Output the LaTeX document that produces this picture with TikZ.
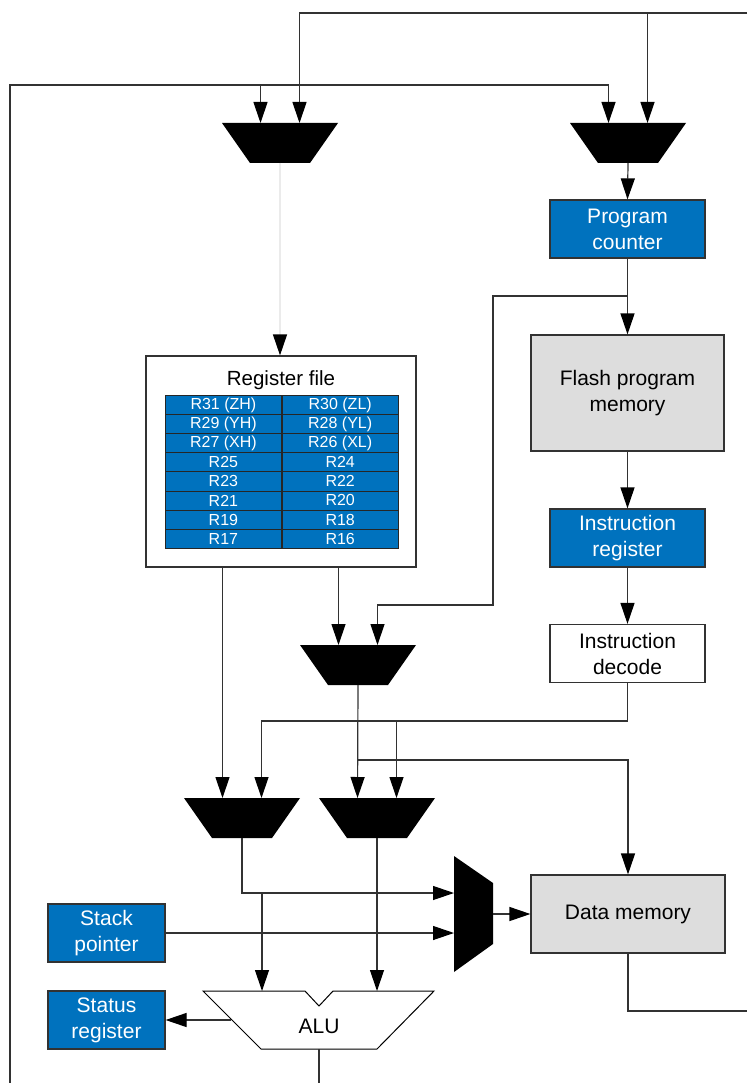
\documentclass[tikz,border=0pt]{standalone}
\usepackage{fontspec}
\setmainfont{Liberation Sans}
\usepackage{xcolor}
\usetikzlibrary{arrows.meta}
\definecolor{avrblue}{RGB}{0,114,190}
\definecolor{memgray}{RGB}{221,221,221}
\definecolor{wiregray}{RGB}{50,50,50}

\begin{document}
\begin{tikzpicture}[x=1pt, y=-1pt,
        wire/.style={draw=wiregray, line width=1.2pt},
        arr/.style={wire, -{Triangle[length=21pt, width=14pt, color=black]}},
        faint arr/.style={arr, draw=black!8},
        unit/.style={draw=wiregray, line width=1.2pt, minimum width=155pt, minimum height=58pt,
            align=center, inner sep=0pt, font=\fontsize{21}{26}\selectfont},
        blue unit/.style={unit, fill=avrblue, text=white},
        mem unit/.style={unit, fill=memgray},
        reg/.style={draw=black!85, line width=0.8pt, fill=avrblue, text=white, minimum width=116pt,
            minimum height=19.1pt, inner sep=0pt, anchor=north west, font=\fontsize{16}{16}\selectfont}]
        \useasboundingbox (0,0) rectangle (747,1083);
        % Edges of the page
        \coordinate (topr) at (747,13);
        \coordinate (botl) at (10,1083);
        \coordinate (loop) at (10,85);
        \coordinate (dmout) at (747,1011);
        \coordinate (aluout) at (319,1083);
        % Blocks
        \node [blue unit] (pc) at (627.5,229) {Program\\counter};
        \node [mem unit, minimum width=193pt, minimum height=116pt] (flash) at (627.5,393) {Flash program\\memory};
        \node [blue unit] (ir) at (627.5,538) {Instruction\\register};
        \node [unit, fill=white] (id) at (627.5,653.5) {Instruction\\decode};
        \node [mem unit, minimum width=194pt, minimum height=78pt] (dmem) at (628,914) {Data memory};
        \node [blue unit, minimum width=117pt] (sp) at (106.5,933) {Stack\\pointer};
        \node [blue unit, minimum width=117pt] (sr) at (106.5,1020) {Status\\register};
        % Register file
        \node [draw=wiregray, line width=1.2pt, fill=white, minimum width=270pt, minimum height=211pt] (rf) at (281,461.5) {};
        \node [font=\fontsize{20.5}{24}\selectfont] (rftitle) at (281,380) {Register file};
        \foreach \a/\b [count=\i] in {R31 (ZH)/R30 (ZL), R29 (YH)/R28 (YL), R27 (XH)/R26 (XL),
                R25/R24, R23/R22, R21/R20, R19/R18, R17/R16} {
            \node [reg] (rl\i) at (165,{395+19.1*(\i-1)}) {\a};
            \node [reg] (rr\i) at (rl\i.north east) {\b};
        }
        % Multiplexers
        \foreach \m/\x/\y in {ma/280/123, mb/628/123, mc/358/645, md/242/798, me/377/798} {
            \fill (\x-58,\y) -- (\x+58,\y) -- (\x+30,\y+40) -- (\x-30,\y+40) -- cycle;
            \coordinate (\m-a) at (\x-19.5,\y);
            \coordinate (\m-b) at (\x+19.5,\y);
            \coordinate (\m-o) at (\x,\y+40);
        }
        \fill (454,856) -- (493,883) -- (493,944) -- (454,972) -- cycle;
        \coordinate (mf-a) at (454,893);
        \coordinate (mf-b) at (454,933);
        \coordinate (mf-o) at (493,914);
        % ALU
        \draw [line width=1pt, fill=white] (203,991) -- (305,991) -- (319,1006) -- (333,991) -- (434,991)
            -- (377,1049) -- (261,1049) -- cycle;
        \node [font=\fontsize{21}{26}\selectfont] (alu) at (319,1026) {ALU};
        \coordinate (alu-a) at (262,991);
        \coordinate (alu-b) at (377,991);
        \coordinate (alu-s) at (231,1020);
        \coordinate (alu-o) at (319,1049);
        % Top wires
        \draw [arr] (topr) -| (ma-b);
        \draw [arr] (mb-b |- topr) -- (mb-b);
        \draw [arr] (botl) -- (loop) -| (mb-a);
        \draw [arr] (ma-a |- loop) -- (ma-a);
        % Program path
        \draw [arr] (mb-o) -- (pc.north);
        \draw [arr] (pc.south) -- (flash.north);
        \draw [arr] (pc.south |- 0,296) -| (493,605) -| (mc-b);
        \draw [arr] (flash.south) -- (ir.north);
        \draw [arr] (ir.south) -- (id.north);
        \draw [arr] (id.south) -- (id.south |- 0,721) -| (md-b);
        \draw [arr] (me-b |- 0,721) -- (me-b);
        % Register file
        \draw [faint arr] (ma-o) -- (ma-o |- rf.north);
        \draw [arr] (rf.south -| md-a) -- (md-a);
        \draw [arr] (rf.south -| mc-a) -- (mc-a);
        % Data path
        \draw [arr] (mc-o) -- (me-a);
        \draw [arr] (mc-o |- 0,760) -| (dmem.north);
        \draw [arr] (md-o) |- (mf-a);
        \draw [arr] (alu-a |- mf-a) -- (alu-a);
        \draw [arr] (me-o) -- (alu-b);
        \draw [arr] (sp.east) -- (mf-b);
        \draw [arr] (mf-o) -- (dmem.west);
        \draw [wire] (dmem.south) |- (dmout);
        \draw [arr] (alu-s) -- (sr.east);
        \draw [wire] (alu-o) -- (aluout);
    \end{tikzpicture}
\end{document}
